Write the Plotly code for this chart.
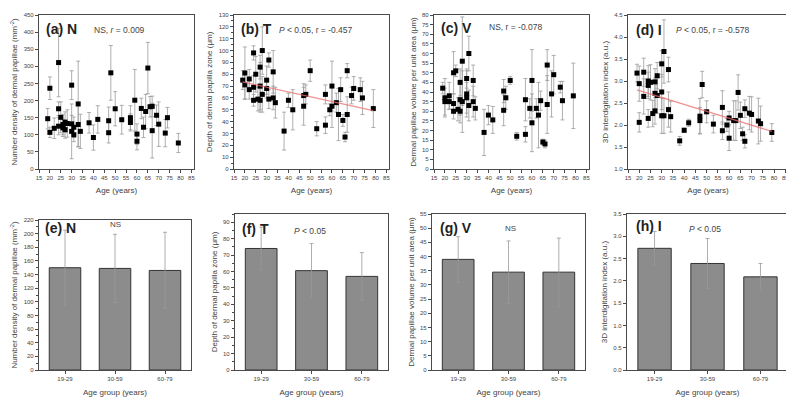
import numpy as np
import plotly.graph_objects as go
from plotly.subplots import make_subplots

# ---------------- data ----------------
a_age = [19,20,20,22,24,24,24,25,26,26,27,27,28,30,30,30,31,31,33,33,34,38,40,42,47,47,48,50,53,57,57,59,60,60,62,63,64,65,66,67,67,69,70,73,74,79]
a_val = [147,236,107,119,311,176,125,151,120,130,137,115,133,245,132,110,100,122,190,130,110,135,92,145,141,106,281,176,144,150,136,201,102,81,177,122,168,295,182,183,112,157,131,105,150,76]
a_err = [30,33,15,30,100,20,25,45,25,30,30,25,40,42,25,80,20,30,125,65,50,30,37,40,40,30,80,50,42,35,25,90,30,25,30,30,50,75,30,30,80,30,65,40,30,28]

b_age = [19,20,20,22,22,24,24,24,25,26,27,27,27,28,28,30,30,31,31,33,33,34,38,40,42,47,47,48,50,53,57,57,59,60,60,62,63,64,65,66,67,67,69,70,73,74,79]
b_val = [75,81,71,76,67,98,69,58,80,59,86,70,58,100,63,75,68,92,59,82,60,56,32,58,50,62,53,63,83,34,63,37,50,70,53,56,46,67,41,27,83,46,62,68,67,60,51]
b_err = [8,22,12,8,8,6,10,5,15,10,10,20,10,20,15,12,8,6,8,18,10,13,16,6,17,10,16,8,9,6,8,7,5,21,18,8,22,10,5,4,6,15,7,10,10,14,16]

c_age = [19,20,20,22,22,24,24,24,25,26,27,27,27,28,28,30,30,30,31,31,33,33,34,38,40,42,47,47,48,50,53,57,57,59,60,60,62,63,64,65,66,67,67,69,70,73,74,79]
c_val = [42,37,35,38,35,50,34,30,51,31,45,36,30,56,35,47,39,37,60,33,46,35,31.5,19,28,25.5,40.5,30.5,37,46,17,36,18,31.5,46,24,31.5,28,35.5,14,13,54,33.5,39,49,42.5,35.5,38]
c_err = [3,10,7,7,4,11,5,4,3,6,7,8,6,23,16,5,12,8,9,8,8,8,6,12,5,7,6,8,6,2,2,11,4,5,16,15,5,17,5,1.5,2,8,15,12,10,3,10,17]

d_age = [19,20,20,22,22,24,24,24,25,26,27,27,27,28,28,30,30,30,31,31,33,33,34,38,40,42,47,47,48,50,53,57,57,59,60,60,62,63,64,65,66,67,67,69,70,73,74,79]
d_val = [3.18,2.94,2.06,3.20,2.65,3.00,2.90,2.15,2.97,2.26,2.98,2.72,2.32,3.12,2.67,3.39,2.75,2.21,3.67,2.21,3.26,2.35,2.19,1.64,1.88,2.05,2.20,2.10,2.92,2.30,2.02,2.40,1.87,2.00,2.16,1.70,2.10,2.10,2.74,2.22,1.80,2.37,1.63,2.27,2.24,2.09,2.03,1.83]
d_err = [0.20,0.40,0.22,0.32,0.40,0.35,0.30,0.20,0.40,0.30,0.30,0.35,0.30,0.30,0.40,0.30,0.40,0.40,0.72,0.40,0.28,0.40,0.35,0.10,0.05,0.08,0.40,0.30,0.30,0.25,0.20,0.38,0.20,0.15,0.15,0.28,0.45,0.45,0.40,0.30,0.15,0.20,0.15,0.38,0.40,0.52,0.40,0.20]

groups = ["19-29", "30-59", "60-79"]
e_val = [150, 149, 146]; e_err = [55, 50, 56]
f_val = [74, 60.5, 57];  f_err = [13, 16.5, 14.5]
g_val = [39, 34.5, 34.5]; g_err = [8, 11, 12]
h_val = [2.73, 2.39, 2.09]; h_err = [0.38, 0.56, 0.30]

# ---------------- layout helpers ----------------
OFF = 8                     # default page body margin
W, H = 794 - OFF, 409 - OFF
FONT = "Liberation Sans"
TXT = "#444"
AX = "#4a4a4a"

def px(x):
    return (x - OFF) / W

def py(y):
    return 1 - (y - OFF) / H

fig = make_subplots(rows=2, cols=4)

# pixel boxes in the screenshot: (x0, x1, ytop, ybottom)
boxes = {
    1: (39, 194, 15, 169), 2: (234, 389, 15, 169), 3: (434, 589, 15, 169), 4: (628, 788, 15, 169),
    5: (39, 191, 220, 370), 6: (235, 388, 214, 370), 7: (432, 585, 214, 370), 8: (627, 788, 214, 370),
}

def ax_name(i, k):
    return k if i == 1 else f"{k}{i}"

def scatter_panel(row, col, ages, vals, errs, fit=False):
    fig.add_trace(go.Scatter(
        x=ages, y=vals, mode="markers",
        marker=dict(symbol="square", size=5, color="black"),
        error_y=dict(type="data", array=errs, color="#9a9a9a", thickness=0.8, width=2),
        showlegend=False), row=row, col=col)
    if fit:
        p = np.polyfit(ages, vals, 1)
        xs = np.array([min(ages), max(ages)])
        fig.add_trace(go.Scatter(x=xs, y=np.polyval(p, xs), mode="lines",
                                 line=dict(color="rgba(235,110,110,0.75)", width=1.3),
                                 showlegend=False), row=row, col=col)

def bar_panel(row, col, vals, errs):
    fig.add_trace(go.Bar(
        x=[0, 1, 2], y=vals, width=0.63,
        marker=dict(color="#8c8c8c", line=dict(color="#333", width=1)),
        error_y=dict(type="data", array=errs, color="#999", thickness=0.8, width=2),
        showlegend=False), row=row, col=col)

scatter_panel(1, 1, a_age, a_val, a_err)
scatter_panel(1, 2, b_age, b_val, b_err, fit=True)
scatter_panel(1, 3, c_age, c_val, c_err)
scatter_panel(1, 4, d_age, d_val, d_err, fit=True)
bar_panel(2, 1, e_val, e_err)
bar_panel(2, 2, f_val, f_err)
bar_panel(2, 3, g_val, g_err)
bar_panel(2, 4, h_val, h_err)

ytitles = [
    "Number density of dermal papillae (mm<sup>-2</sup>)",
    "Depth of dermal papilla zone (μm)",
    "Dermal papillae volume per unit area (μm)",
    "3D interdigitation index (a.u.)",
]
yranges = {1: (0, 450, 50), 2: (0, 130, 10), 3: (0, 80, 5), 4: (1.0, 4.5, 0.5),
           5: (0, 220, 20), 6: (0, 95, 10), 7: (0, 55, 5), 8: (0, 3.5, 0.5)}

for i in range(1, 9):
    x0, x1, yt, yb = boxes[i]
    xa = ax_name(i, "xaxis"); ya = ax_name(i, "yaxis")
    common = dict(showline=True, linecolor=AX, linewidth=1.2, mirror=True,
                  ticks="outside", ticklen=3, tickcolor=AX, tickwidth=1,
                  showgrid=False, zeroline=False, automargin=False,
                  tickfont=dict(family=FONT, size=6, color=TXT))
    lo, hi, dt = yranges[i]
    fmt = ".1f" if i in (4, 8) else "d"
    fig.layout[ya].update(domain=[py(yb), py(yt)], range=[lo, hi],
                          tick0=lo, dtick=dt, tickformat=fmt,
                          minor=dict(ticks="outside", ticklen=1.5, tickcolor=AX, nticks=2),
                          title=dict(text=ytitles[(i - 1) % 4], standoff=4,
                                     font=dict(family=FONT, size=8, color=TXT)),
                          **common)
    if i <= 4:
        fig.layout[xa].update(domain=[px(x0), px(x1)], range=[15, 86.2],
                              tick0=15, dtick=5,
                              minor=dict(ticks="outside", ticklen=1.5, tickcolor=AX, nticks=2),
                              title=dict(text="Age (years)", standoff=7,
                                         font=dict(family=FONT, size=8, color=TXT)),
                              **common)
    else:
        fig.layout[xa].update(domain=[px(x0), px(x1)], range=[-0.52, 2.52],
                              tickmode="array", tickvals=[0, 1, 2], ticktext=groups,
                              title=dict(text="Age group (years)", standoff=8,
                                         font=dict(family=FONT, size=8, color=TXT)),
                              **common)

def ann(x, y, text, size, xanchor="left", color="#222"):
    fig.add_annotation(x=px(x), y=py(y), xref="paper", yref="paper", text=text,
                       showarrow=False, xanchor=xanchor, yanchor="middle",
                       font=dict(family=FONT, size=size, color=color))

ann(44, 29, "<b>(a) N</b>", 14)
ann(92, 30, "NS, <i>r</i> = 0.009", 8.5, color=TXT)
ann(239, 29, "<b>(b) T</b>", 14)
ann(277, 30, "<i>P</i> < 0.05, r = -0.457", 8.5, color=TXT)
ann(439, 28, "<b>(c) V</b>", 14)
ann(487, 27, "NS, r = -0.078", 8.5, color=TXT)
ann(634, 30, "<b>(d) I</b>", 14)
ann(674, 30, "<i>P</i> < 0.05, r = -0.578", 8.5, color=TXT)
ann(43, 228, "<b>(e) N</b>", 14)
ann(115, 224, "NS", 8, xanchor="center", color=TXT)
ann(240, 229, "<b>(f) T</b>", 14)
ann(310, 231, "<i>P</i> < 0.05", 8.5, xanchor="center", color=TXT)
ann(438, 228, "<b>(g) V</b>", 14)
ann(510, 228, "NS", 8, xanchor="center", color=TXT)
ann(634, 226, "<b>(h) I</b>", 14)
ann(705, 229, "<i>P</i> < 0.05", 8.5, xanchor="center", color=TXT)

fig.update_layout(width=W, height=H, margin=dict(l=0, r=0, t=0, b=0),
                  plot_bgcolor="white", paper_bgcolor="white", bargap=0.3)
fig.write_html("out.html")
